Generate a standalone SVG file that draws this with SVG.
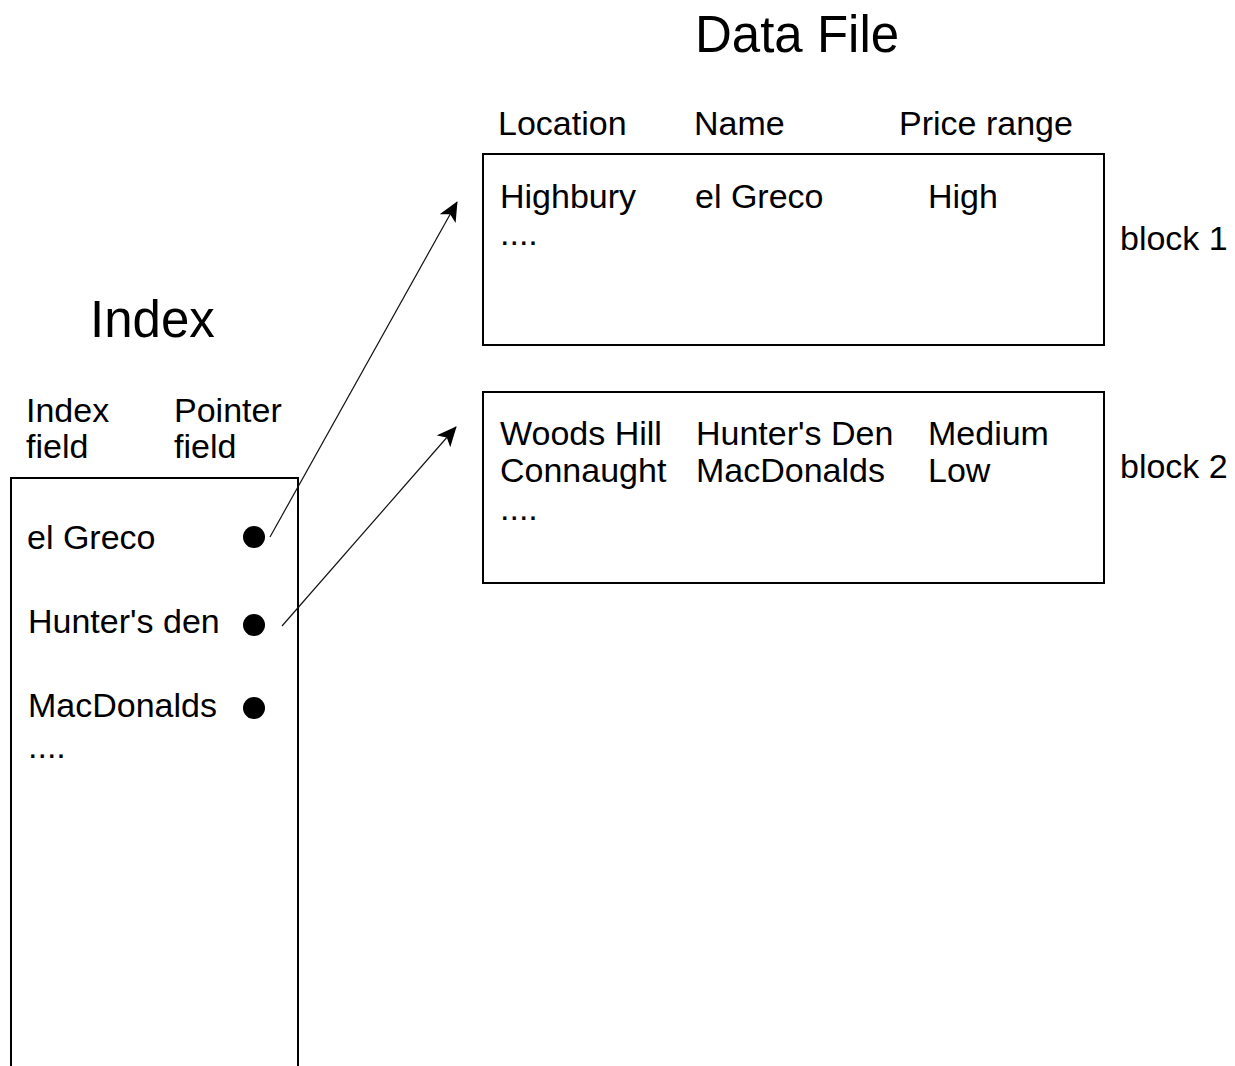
<svg xmlns="http://www.w3.org/2000/svg" width="1235" height="1066" viewBox="0 0 1235 1066">
  <style>
    text { font-family: "Liberation Sans", Arial, sans-serif; fill: #000; }
    .title { font-size: 51px; }
    .lbl { font-size: 34px; }
    .box { fill: none; stroke: #000; stroke-width: 2; }
    .dot { fill: #000; }
    .ptr { fill: none; stroke: #111; stroke-width: 1.2; }
  </style>
  <defs>
    <marker id="arrow" viewBox="0 0 20 18" refX="19" refY="9" markerWidth="20" markerHeight="18" markerUnits="userSpaceOnUse" orient="auto">
      <path d="M0,0 L20,9 L0,18 L5,9 z" fill="#000"/>
    </marker>
  </defs>
  <rect width="1235" height="1066" fill="#fff"/>

  <!-- headings -->
  <text class="title" x="695" y="52">Data File</text>
  <text class="title" x="90" y="337">Index</text>

  <!-- index table -->
  <g id="index">
    <text class="lbl" x="26" y="422">Index</text>
    <text class="lbl" x="26" y="458">field</text>
    <text class="lbl" x="174" y="422">Pointer</text>
    <text class="lbl" x="174" y="458">field</text>
    <path class="box" d="M11,1070 V478 H298 V1070"/>
    <text class="lbl" x="27" y="549">el Greco</text>
    <text class="lbl" x="28" y="633">Hunter's den</text>
    <text class="lbl" x="28" y="717">MacDonalds</text>
    <text class="lbl" x="28" y="758">....</text>
    <circle class="dot" cx="254" cy="537" r="11"/>
    <circle class="dot" cx="254" cy="625" r="11"/>
    <circle class="dot" cx="254" cy="708" r="11"/>
  </g>

  <!-- column headers -->
  <g id="headers">
    <text class="lbl" x="498" y="135">Location</text>
    <text class="lbl" x="694" y="135">Name</text>
    <text class="lbl" x="899" y="135">Price range</text>
  </g>

  <!-- block 1 -->
  <g id="block1">
    <rect class="box" x="483" y="154" width="621" height="191"/>
    <text class="lbl" x="500" y="208">Highbury</text>
    <text class="lbl" x="695" y="208">el Greco</text>
    <text class="lbl" x="928" y="208">High</text>
    <text class="lbl" x="500" y="245">....</text>
    <text class="lbl" x="1120" y="250">block 1</text>
  </g>

  <!-- block 2 -->
  <g id="block2">
    <rect class="box" x="483" y="392" width="621" height="191"/>
    <text class="lbl" x="500" y="445">Woods Hill</text>
    <text class="lbl" x="696" y="445">Hunter's Den</text>
    <text class="lbl" x="928" y="445">Medium</text>
    <text class="lbl" x="500" y="482">Connaught</text>
    <text class="lbl" x="696" y="482">MacDonalds</text>
    <text class="lbl" x="928" y="482">Low</text>
    <text class="lbl" x="500" y="520">....</text>
    <text class="lbl" x="1120" y="478">block 2</text>
  </g>

  <!-- pointers from index entries to data blocks -->
  <g id="connectors">
    <line class="ptr" x1="270" y1="537" x2="457" y2="202" marker-end="url(#arrow)"/>
    <line class="ptr" x1="282" y1="626" x2="456" y2="427" marker-end="url(#arrow)"/>
  </g>
</svg>
